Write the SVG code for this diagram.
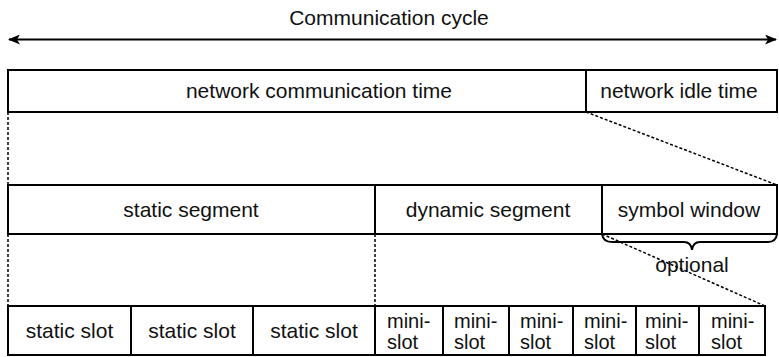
<svg xmlns="http://www.w3.org/2000/svg" width="779" height="357" viewBox="0 0 779 357">
<style>
.box{fill:#fff;stroke:#000;stroke-width:2}
.div{stroke:#000;stroke-width:2;fill:none}
.dash{stroke:#000;stroke-width:1.5;stroke-dasharray:3 2;fill:none}
.t{font-family:"Liberation Sans",Arial,sans-serif;font-size:21px;fill:#111;text-anchor:middle}
.l{font-family:"Liberation Sans",Arial,sans-serif;font-size:20px;fill:#111}
</style>
<defs>
<marker id="ah" viewBox="0 0 12 10" refX="11" refY="5" markerWidth="12" markerHeight="10" markerUnits="userSpaceOnUse" orient="auto-start-reverse">
<path d="M0,0 L12,5 L0,10 L3,5 Z" fill="#000"/>
</marker>
</defs>
<rect width="779" height="357" fill="#fff"/>
<g id="title">
<text class="t" x="389" y="25">Communication cycle</text>
</g>
<g id="cycle-arrow">
<line x1="9" y1="39.5" x2="776" y2="39.5" stroke="#000" stroke-width="2" marker-start="url(#ah)" marker-end="url(#ah)"/>
</g>
<g id="row1">
<rect class="box" x="8" y="70" width="769" height="42"/>
<line class="div" x1="586" y1="70" x2="586" y2="112"/>
<text class="t" x="319" y="98">network communication time</text>
<text class="t" x="679" y="98">network idle time</text>
</g>
<g id="row2">
<rect class="box" x="8" y="185" width="769" height="49"/>
<line class="div" x1="375" y1="185" x2="375" y2="234"/>
<line class="div" x1="602" y1="185" x2="602" y2="234"/>
<text class="t" x="191" y="217">static segment</text>
<text class="t" x="488" y="217">dynamic segment</text>
<text class="t" x="689" y="217">symbol window</text>
</g>
<g id="brace">
<path d="M602,234 Q603,242 612,242 L684,242 Q691,242 692,250 Q693,242 700,242 L768,242 Q776,242 777,234" class="div"/>
<text class="t" x="692" y="272">optional</text>
</g>
<g id="row3">
<rect class="box" x="8" y="306" width="757" height="49"/>
<line class="div" x1="131" y1="306" x2="131" y2="355"/>
<line class="div" x1="253" y1="306" x2="253" y2="355"/>
<line class="div" x1="375" y1="306" x2="375" y2="355"/>
<line class="div" x1="443" y1="306" x2="443" y2="355"/>
<line class="div" x1="509" y1="306" x2="509" y2="355"/>
<line class="div" x1="573" y1="306" x2="573" y2="355"/>
<line class="div" x1="636" y1="306" x2="636" y2="355"/>
<line class="div" x1="699" y1="306" x2="699" y2="355"/>
<text class="t" x="69.5" y="338">static slot</text>
<text class="t" x="192" y="338">static slot</text>
<text class="t" x="314" y="338">static slot</text>
<text class="l" x="387" y="328">mini-</text><text class="l" x="387" y="349">slot</text>
<text class="l" x="454" y="328">mini-</text><text class="l" x="454" y="349">slot</text>
<text class="l" x="520" y="328">mini-</text><text class="l" x="520" y="349">slot</text>
<text class="l" x="584" y="328">mini-</text><text class="l" x="584" y="349">slot</text>
<text class="l" x="645" y="328">mini-</text><text class="l" x="645" y="349">slot</text>
<text class="l" x="711" y="328">mini-</text><text class="l" x="711" y="349">slot</text>
</g>
<g id="connectors">
<line class="dash" x1="8" y1="112" x2="8" y2="185"/>
<line class="dash" x1="8" y1="234" x2="8" y2="306"/>
<line class="dash" x1="375" y1="234" x2="375" y2="306"/>
<line class="dash" x1="586" y1="112" x2="777" y2="185"/>
<line class="dash" x1="602" y1="234" x2="765" y2="306"/>
</g>
</svg>
